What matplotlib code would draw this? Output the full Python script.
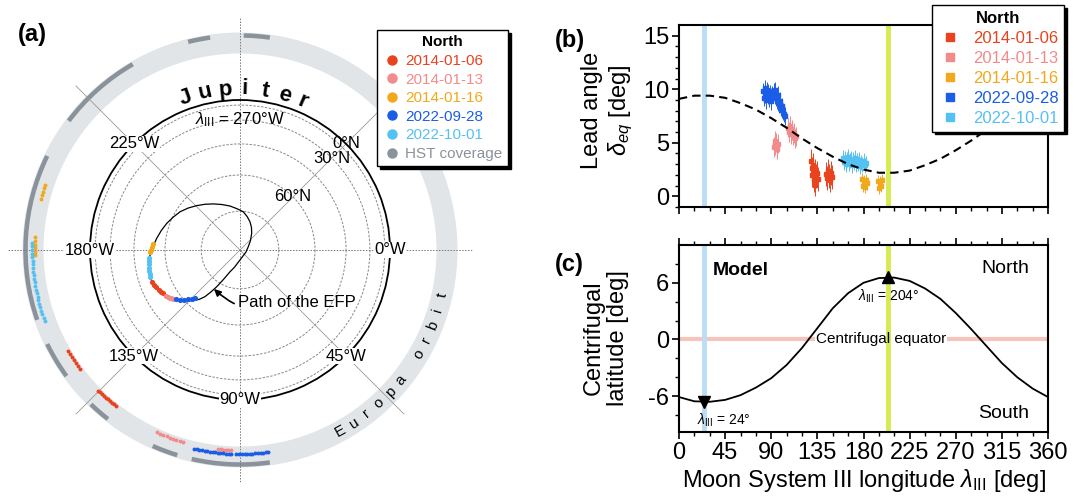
import numpy as np
import matplotlib.pyplot as plt
from matplotlib.lines import Line2D

plt.rcParams['font.family'] = ['Liberation Sans', 'DejaVu Sans']
plt.rcParams['mathtext.fontset'] = 'custom'
plt.rcParams['mathtext.rm'] = 'Liberation Sans'
plt.rcParams['mathtext.it'] = 'Liberation Sans:italic'
plt.rcParams['mathtext.bf'] = 'Liberation Sans:bold'
plt.rcParams['axes.unicode_minus'] = False

# =====================================
# DATA
# =====================================

dates = ['2014-01-06', '2014-01-13', '2014-01-16', '2022-09-28', '2022-10-01']
colors = ['#e8431e', '#f28b8b', '#f2a81d', '#1b5de6', '#55c1f2']
hst_color = '#8a939b'

# Europa System III longitude [deg] and lead angle [deg] for each frame
lam_0106 = [128.5, 129.3, 130.0, 130.7, 131.5, 132.2, 133.0, 133.7, 134.5, 135.2,
            143.5, 144.5, 145.5, 146.5, 147.5, 148.5, 149.5]
lead_0106 = [3.3, 2.6, 2.0, 2.9, 1.5, 2.4, 1.1, 1.9, 2.2, 1.6,
             2.1, 1.7, 2.4, 1.9, 1.5, 2.2, 1.8]

lam_0113 = [92.5, 93.3, 94.0, 94.8, 95.5, 96.3,
            106.5, 107.5, 108.5, 109.5, 110.5, 111.5, 112.5, 113.5, 114.5]
lead_0113 = [4.6, 5.2, 4.8, 5.0, 4.4, 4.9,
             6.4, 6.0, 6.6, 5.8, 6.2, 5.7, 5.9, 5.4, 5.6]

lam_0116 = [178.5, 179.5, 180.5, 181.5, 182.5, 183.5,
            194.5, 195.5, 196.5, 197.5, 198.5]
lead_0116 = [1.6, 1.0, 1.4, 0.9, 1.5, 1.2,
             1.4, 0.8, 1.3, 1.0, 1.5]

lam_0928 = [82.0, 82.8, 83.5, 84.2, 85.0, 85.7, 86.5, 87.2, 88.0, 88.7, 89.5, 90.2, 91.0,
            92.5, 93.2, 94.0, 94.7, 95.5, 96.2, 97.0, 97.7, 98.5, 99.2, 100.0, 100.7,
            101.5, 102.2, 103.0]
lead_0928 = [9.8, 9.2, 10.1, 9.5, 9.0, 9.9, 9.4, 9.7, 9.1, 9.6, 9.3, 8.9, 9.5,
             9.8, 9.4, 9.9, 9.2, 9.0, 9.5, 8.8, 8.6, 8.9, 8.3, 8.1, 8.4,
             7.9, 7.7, 7.5]

lam_1001 = [160, 161, 162, 163, 164, 165, 166, 167, 168, 169, 170, 171,
            172, 173, 174, 175, 176, 177, 178, 179, 180, 181, 182]
lead_1001 = [3.6, 3.2, 3.5, 3.0, 3.4, 3.7, 3.1, 3.3, 3.5, 2.9, 3.4, 3.2,
             3.6, 3.0, 3.3, 3.1, 3.4, 2.8, 3.2, 3.0, 3.3, 2.9, 3.1]

lam_all = [lam_0106, lam_0113, lam_0116, lam_0928, lam_1001]
lead_all = [lead_0106, lead_0113, lead_0116, lead_0928, lead_1001]
lead_err = [1.1, 0.9, 0.6, 0.8, 0.7]

# EFP footprint positions (west longitude, latitude) for each date
fp_lon = [[160, 158, 156, 154, 152, 151],
          [148, 147, 146, 145, 144],
          [184, 182, 180, 178.5],
          [142.5, 140.5, 138.5, 136.5, 134.5, 133.0],
          [175, 173, 171, 169, 167, 165, 163.5]]
fp_lat = [[51.4, 51.9, 52.4, 52.9, 53.5, 53.9],
          [54.7, 55.1, 55.5, 55.9, 56.3],
          [54.5, 54.0, 53.6, 53.2],
          [57.5, 58.7, 60.0, 61.4, 62.8, 64.0],
          [52.6, 52.2, 51.9, 51.7, 51.6, 51.5, 51.5]]

# HST coverage along Europa orbit (start, end) [deg]
hst_cov = [(82, 103), (107, 114), (128, 134), (144, 154), (161, 206),
           (217, 240), (256, 262), (271, 278)]

# path of the Europa footprint (west longitude, latitude)
efp_lon = [178.7, 183.0, 188.0, 194.0, 200.0, 206.0, 212.5, 219.0, 225.7, 232.5,
           239.9, 248.0, 257.2, 266.0, 274.9, 282.0, 289.5, 297.0, 305.0, 318.0,
           338.3, 20.0, 90.0, 108.0, 114.7, 119.5, 122.4, 124.8, 126.9, 129.5,
           132.6, 137.5, 143.0, 148.0, 152.3, 156.5, 160.0, 164.0, 167.6, 170.8,
           173.7, 176.3, 178.7]
efp_lat = [53.6, 54.7, 55.9, 57.3, 58.7, 60.2, 61.7, 63.6, 65.6, 67.4,
           69.2, 70.9, 72.5, 74.0, 75.2, 76.8, 78.5, 80.3, 82.2, 84.6,
           86.6, 87.6, 86.2, 83.0, 80.8, 76.8, 73.1, 70.0, 67.1, 64.8,
           62.7, 59.8, 57.1, 54.9, 52.9, 52.0, 51.4, 51.4, 51.6, 52.0,
           52.4, 53.0, 53.6]

# models vs Moon System III longitude
lam_model = [0, 15, 30, 45, 60, 75, 90, 105, 120, 135, 150, 165, 180,
             195, 210, 225, 240, 255, 270, 285, 300, 315, 330, 345, 360]
lead_model = [9.1, 9.4, 9.4, 9.2, 8.7, 8.1, 7.3, 6.4, 5.4, 4.5, 3.7, 3.0, 2.5,
              2.2, 2.2, 2.4, 2.9, 3.5, 4.3, 5.2, 6.2, 7.1, 7.9, 8.6, 9.1]
cent_lat = [-6.1, -6.55, -6.6, -6.4, -5.9, -5.1, -4.1, -2.7, -0.9, 1.2, 3.3, 4.9, 6.0,
            6.5, 6.55, 6.2, 5.4, 4.3, 2.8, 1.1, -0.7, -2.5, -4.0, -5.2, -6.1]
lam_south, lat_south = 24, -6.6
lam_north, lat_north = 204, 6.6

# =====================================
# FIGURE
# =====================================

W, H = 1083, 501
fig = plt.figure(figsize=(W / 100, H / 100), dpi=100)

ring_r = [1.33, 1.335, 1.37, 1.36, 1.385]

# ---------- panel (a) ----------
ax = fig.add_axes([7.5 / W, 18.5 / H, 465 / W, 465 / H], projection='polar')
ax.set_theta_zero_location('E')
ax.set_theta_direction(-1)
ax.set_rlim(0, 1.55)
ax.spines['polar'].set_visible(False)
ax.set_xticks(np.deg2rad(np.arange(0, 360, 45)))
ax.set_xticklabels([])
ax.set_yticks([np.cos(np.deg2rad(l)) for l in (75, 60, 45, 30, 15)] + [1.0])
ax.set_yticklabels([])
ax.grid(True)
for i, gl in enumerate(ax.xaxis.get_gridlines()):
    if i % 2 == 0:
        gl.set(color='#777777', lw=0.7, ls=(0, (1.5, 1.5)))
    else:
        gl.set(color='#999999', lw=0.6, ls='-')
rgl = ax.yaxis.get_gridlines()
for gl in rgl[:-1]:
    gl.set(color='#888888', lw=0.7, ls=(0, (2.5, 1.5)))
rgl[-1].set(color='black', lw=1.3, ls='-')

# Europa orbit ring
ax.bar(0, 0.14, width=2 * np.pi, bottom=1.31, color='#e1e5e8', zorder=0.8, lw=0)
for a, b in hst_cov:
    ax.bar(np.deg2rad((a + b) / 2), 0.03, width=np.deg2rad(b - a), bottom=1.415,
           color=hst_color, lw=0, zorder=1)
for lam, c, r in zip(lam_all, colors, ring_r):
    ax.scatter(np.deg2rad(lam), np.full(len(lam), r), s=8, color=c, lw=0, zorder=2)

# EFP path
ax.plot(np.deg2rad(efp_lon), np.cos(np.deg2rad(efp_lat)), color='black', lw=0.9, zorder=3)
for lo, la, c in zip(fp_lon, fp_lat, colors):
    ax.scatter(np.deg2rad(lo), np.cos(np.deg2rad(la)), s=14, color=c, lw=0, zorder=4)

ax.annotate('Path of the EFP', xy=(np.deg2rad(125.4), np.cos(np.deg2rad(71.9))),
            xytext=(np.deg2rad(92), 0.347), fontsize=12, ha='left', va='center',
            arrowprops=dict(arrowstyle='-|>', color='black', lw=1.2,
                            connectionstyle='arc3,rad=-0.35', shrinkA=1, shrinkB=1,
                            mutation_scale=10))

bb = dict(facecolor='white', edgecolor='none', pad=0.5)
for lon in (0, 45, 90, 135, 180, 225):
    ax.text(np.deg2rad(lon), 1.0, f'{lon}°W', fontsize=12,
            ha='center', va='center', bbox=bb, zorder=5)
ax.text(np.deg2rad(270), 0.867, r'$\lambda_{\rm III}$ = 270°W', fontsize=12,
        ha='center', va='center', zorder=5)
ax.text(np.deg2rad(315), 1.0, '0°N', fontsize=12, ha='center', va='center', zorder=5)
ax.text(np.deg2rad(315), np.cos(np.deg2rad(30)), '30°N', fontsize=12,
        ha='center', va='center', zorder=5)
ax.text(np.deg2rad(315), np.cos(np.deg2rad(60)), '60°N', fontsize=12,
        ha='center', va='center', zorder=5)

for ch, lon in zip('Jupiter', np.linspace(250.5, 293, 7)):
    ax.text(np.deg2rad(lon), 1.075, ch, fontsize=16, fontweight='bold',
            rotation=-lon - 90, ha='center', va='center', rotation_mode='anchor')
for ch, lon in zip('Europa orbit', np.linspace(61, 12.5, 12)):
    ax.text(np.deg2rad(lon), 1.38, ch, fontsize=11,
            rotation=-lon + 90, ha='center', va='center', rotation_mode='anchor')

handles = [Line2D([], [], marker='o', ls='none', color=c, ms=6.5) for c in colors]
handles.append(Line2D([], [], marker='o', ls='none', color=hst_color, ms=6.5))
leg_a = fig.legend(handles, dates + ['HST coverage'], loc='upper left',
                   bbox_to_anchor=(377 / W, 1 - 30 / H), borderaxespad=0,
                   title='North', title_fontproperties={'weight': 'bold', 'size': 11},
                   fontsize=11, fancybox=False, edgecolor='black', framealpha=1,
                   handletextpad=0.3, handlelength=1.2, labelspacing=0.3,
                   borderpad=0.35, shadow={'facecolor': 'black', 'edgecolor': 'black', 'alpha': 1})
for t, c in zip(leg_a.get_texts(), colors + [hst_color]):
    t.set_color(c)

# ---------- panel (b) ----------
axb = fig.add_axes([679 / W, (H - 207) / H, 369 / W, 182 / H])
axb.axvline(lam_south, color='#b9def5', lw=3.5, zorder=0)
axb.axvline(lam_north, color='#d6eb4f', lw=3.5, zorder=0)
for lam, d, e, c in zip(lam_all, lead_all, lead_err, colors):
    axb.errorbar(lam, d, yerr=e, xerr=0.4, fmt='s', ms=2.5, color=c, mec=c,
                 elinewidth=0.7, capsize=0, zorder=2)
axb.plot(lam_model, lead_model, color='black', lw=1.5, ls=(0, (4, 2.5)), zorder=3)
axb.set_xlim(0, 360)
axb.set_ylim(-1, 16)
axb.set_xticks(np.arange(0, 361, 45))
axb.set_xticks(np.arange(0, 361, 15), minor=True)
axb.set_yticks([0, 5, 10, 15])
axb.set_yticks(np.arange(-1, 16, 1), minor=True)
axb.tick_params(axis='x', labelbottom=False)

handles_b = [Line2D([], [], marker='s', ls='none', color=c, ms=5.5) for c in colors]
leg_b = fig.legend(handles_b, dates, loc='upper left',
                   bbox_to_anchor=(932 / W, 1 - 5 / H), borderaxespad=0,
                   title='North', title_fontproperties={'weight': 'bold', 'size': 12},
                   fontsize=12, fancybox=False, edgecolor='black', framealpha=1,
                   handletextpad=0.6, handlelength=1.5, labelspacing=0.3,
                   borderpad=0.35, shadow={'facecolor': 'black', 'edgecolor': 'black', 'alpha': 1})
for t, c in zip(leg_b.get_texts(), colors):
    t.set_color(c)

# ---------- panel (c) ----------
axc = fig.add_axes([679 / W, (H - 432) / H, 369 / W, 187 / H])
axc.axhline(0, color='#f7c4bc', lw=3, zorder=0)
# white box behind the label, the label itself is drawn above the band
axc.text(197, 0, 'Centrifugal equator', fontsize=11, ha='center', va='center', color='white',
         bbox=dict(facecolor='white', edgecolor='none', pad=0.5), zorder=0.5)
axc.text(197, 0, 'Centrifugal equator', fontsize=11, ha='center', va='center', zorder=4)
axc.axvline(lam_south, color='#b9def5', lw=3.5, zorder=1)
axc.axvline(lam_north, color='#d6eb4f', lw=3.5, zorder=1)
axc.plot(lam_model, cent_lat, color='black', lw=1.3, zorder=2)
axc.plot(lam_south, lat_south, marker='v', color='black', ms=8, zorder=3)
axc.plot(lam_north, lat_north, marker='^', color='black', ms=8, zorder=3)
axc.text(18, -8.6, r'$\lambda_{\rm III}$ = 24°', fontsize=10, ha='left', va='center')
axc.text(205, 4.6, r'$\lambda_{\rm III}$ = 204°', fontsize=10, ha='center', va='center')
axc.text(0.092, 0.866, 'Model', transform=axc.transAxes, fontsize=14,
         fontweight='bold', ha='left', va='center')
axc.text(0.95, 0.877, 'North', transform=axc.transAxes, fontsize=14, ha='right', va='center')
axc.text(0.95, 0.10, 'South', transform=axc.transAxes, fontsize=14, ha='right', va='center')
axc.set_xlim(0, 360)
axc.set_ylim(-9.8, 10)
axc.set_xticks(np.arange(0, 361, 45))
axc.set_xticks(np.arange(0, 361, 15), minor=True)
axc.set_yticks([-6, 0, 6])
axc.set_yticks(np.arange(-8, 10, 2), minor=True)
axc.tick_params(axis='x', top=True, which='both')
axc.set_xlabel(r'Moon System III longitude $\lambda_{\rm III}$ [deg]', fontsize=17, labelpad=2)

for a in (axb, axc):
    for s in a.spines.values():
        s.set_linewidth(1.5)
    a.tick_params(which='major', direction='out', length=5, width=1.2, labelsize=17, pad=2)
    a.tick_params(which='minor', direction='out', length=3, width=1.0)

fig.text(608 / W, 1 - 110 / H, 'Lead angle\n$\\delta_{eq}$ [deg]', rotation=90, fontsize=17,
         ha='center', va='center', multialignment='center', linespacing=1.2)
fig.text(606 / W, 1 - 338 / H, 'Centrifugal\nlatitude [deg]', rotation=90, fontsize=17,
         ha='center', va='center', multialignment='center', linespacing=1.1)

fig.text(18 / W, 1 - 35 / H, '(a)', fontsize=17, fontweight='bold', va='center')
fig.text(555 / W, 1 - 40 / H, '(b)', fontsize=17, fontweight='bold', va='center')
fig.text(555 / W, 1 - 265 / H, '(c)', fontsize=17, fontweight='bold', va='center')

fig.savefig('out.png', dpi=100)
